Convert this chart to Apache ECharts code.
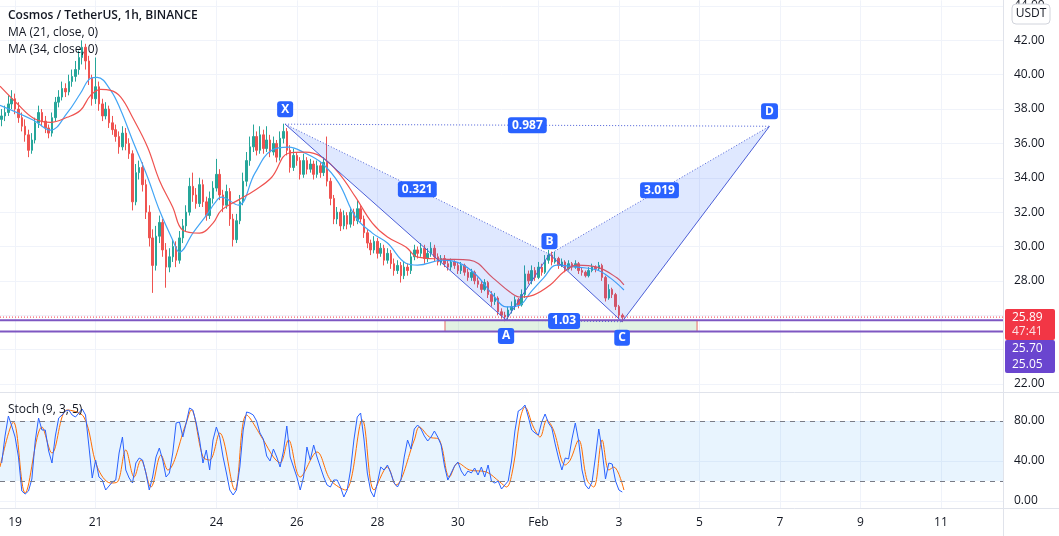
<!DOCTYPE html>
<html><head><meta charset="utf-8">
<script src="https://cdn.jsdelivr.net/npm/echarts@6/dist/echarts.min.js"></script>
<style>html,body{margin:0;padding:0;background:#fff}#c{width:1059px;height:536px}</style>
</head><body><div id="c"></div>
<script>
// ---------- DATA (2-hour candles, first one at Jan 18 16:00; hour 0 = Jan 19 00:00) ----------
const opens = [
37.4,37.6,37.8,38.3,38.6,38.0,37.5,37.0,36.5,35.6,
36.2,37.2,37.8,37.3,36.9,36.6,37.5,38.4,38.7,39.2,
39.0,39.6,39.9,40.3,41.0,41.6,40.8,39.8,38.6,39.3,
38.3,37.6,38.0,37.2,36.8,36.4,35.8,36.6,36.0,35.4,
32.6,34.3,34.6,33.6,32.0,30.5,28.9,30.6,31.4,29.8,
28.8,29.4,30.0,29.2,30.5,31.2,32.0,33.5,33.0,32.5,
33.6,32.6,31.8,32.8,33.4,34.2,33.0,32.4,33.2,31.6,
30.4,31.5,32.6,33.8,35.0,35.8,36.4,35.6,36.5,35.7,
36.2,35.5,36.0,35.2,36.3,36.7,35.6,34.6,35.3,35.0,
34.2,35.0,34.5,34.8,34.2,34.7,34.3,34.9,33.8,32.8,
31.6,32.0,31.2,31.8,31.3,32.0,31.5,32.2,31.6,30.8,
30.2,29.8,30.3,29.6,29.9,29.2,29.6,29.0,28.6,28.9,
28.3,28.8,28.6,29.4,29.8,29.6,29.9,29.3,29.6,29.9,
29.4,29.1,29.3,29.0,28.8,29.1,28.9,28.6,28.9,28.5,
28.2,28.5,28.0,27.8,27.5,27.9,27.2,26.8,27.0,26.2,
26.0,25.9,26.3,26.5,26.9,26.6,27.2,28.4,28.0,28.6,
28.2,28.8,28.5,29.2,29.5,29.1,29.3,28.9,29.1,28.7,
29.0,28.8,29.0,28.6,28.5,28.3,28.6,28.8,28.7,28.9,
28.2,27.0,27.5,27.2,26.5,26.0];
const closes = [
37.6,37.8,38.3,38.6,38.0,37.5,37.0,36.5,35.6,36.2,
37.2,37.8,37.3,36.9,36.6,37.5,38.4,38.7,39.2,39.0,
39.6,39.9,40.3,41.0,41.6,40.8,39.8,38.6,39.3,38.3,
37.6,38.0,37.2,36.8,36.4,35.8,36.6,36.0,35.4,32.6,
34.3,34.6,33.6,32.0,30.5,28.9,30.6,31.4,29.8,28.8,
29.4,30.0,29.2,30.5,31.2,32.0,33.5,33.0,32.5,33.6,
32.6,31.8,32.8,33.4,34.2,33.0,32.4,33.2,31.6,30.4,
31.5,32.6,33.8,35.0,35.8,36.4,35.6,36.5,35.7,36.2,
35.5,36.0,35.2,36.3,36.7,35.6,34.6,35.3,35.0,34.2,
35.0,34.5,34.8,34.2,34.7,34.3,34.9,33.8,32.8,31.6,
32.0,31.2,31.8,31.3,32.0,31.5,32.2,31.6,30.8,30.2,
29.8,30.3,29.6,29.9,29.2,29.6,29.0,28.6,28.9,28.3,
28.8,28.6,29.4,29.8,29.6,29.9,29.3,29.6,29.9,29.4,
29.1,29.3,29.0,28.8,29.1,28.9,28.6,28.9,28.5,28.2,
28.5,28.0,27.8,27.5,27.9,27.2,26.8,27.0,26.2,26.0,
25.9,26.3,26.5,26.9,26.6,27.2,28.4,28.0,28.6,28.2,
28.8,28.5,29.2,29.5,29.1,29.3,28.9,29.1,28.7,29.0,
28.8,29.0,28.6,28.5,28.3,28.6,28.8,28.7,28.9,28.2,
27.0,27.5,27.2,26.5,26.0,25.89];
const highs = [
38.0,38.2,38.8,39.1,38.9,38.4,37.8,37.4,36.8,36.6,
37.5,38.2,38.0,37.6,37.1,37.8,38.7,39.1,39.6,39.5,
40.0,40.3,40.8,41.4,42.0,41.8,41.1,40.0,41.0,39.6,
38.6,38.4,38.2,37.6,37.1,36.7,37.0,36.9,36.3,35.6,
34.8,35.0,34.9,33.9,32.4,31.0,31.2,31.8,31.6,30.2,
29.9,30.4,30.3,30.9,31.6,32.4,34.0,34.3,33.4,34.0,
33.9,32.9,33.2,33.8,35.1,34.5,33.3,33.6,33.4,31.9,
31.9,33.0,34.3,35.5,36.4,37.1,36.7,37.0,36.8,37.0,
36.5,36.4,36.2,36.7,37.15,36.9,35.9,35.7,35.5,35.2,
35.4,35.2,35.1,35.0,35.0,34.9,35.2,36.4,34.0,33.0,
32.3,32.2,32.1,32.0,32.3,32.2,32.7,32.4,31.8,31.0,
30.4,30.6,30.5,30.2,30.1,29.9,29.8,29.3,29.2,29.1,
29.1,29.0,29.7,30.1,30.0,30.2,30.1,29.9,30.25,30.1,
29.6,29.5,29.5,29.2,29.3,29.2,29.1,29.1,29.0,28.7,
28.7,28.6,28.2,28.0,28.1,28.0,27.4,27.3,27.1,26.4,
26.2,26.5,26.8,27.1,27.0,27.5,28.9,28.6,28.9,28.8,
29.1,29.0,29.5,29.8,29.7,29.7,29.4,29.3,29.2,29.2,
29.1,29.2,29.1,28.8,28.6,28.8,29.0,28.9,29.1,29.0,
28.3,27.8,27.6,27.3,26.6,26.1];
const lows = [
37.0,37.3,37.6,38.0,37.7,37.2,36.7,36.1,35.2,35.4,
36.0,36.9,37.0,36.6,36.3,36.4,37.3,38.1,38.5,38.7,
38.8,39.3,39.6,40.0,40.6,40.3,39.4,38.2,38.3,37.9,
37.3,37.4,36.9,36.5,36.1,35.4,35.6,35.6,35.1,32.1,
32.4,33.9,33.2,31.6,30.0,27.3,28.6,30.2,29.4,27.6,
28.5,29.1,28.8,29.0,30.2,30.9,31.8,32.6,32.2,32.3,
32.3,31.5,31.6,32.5,33.2,32.7,32.0,32.2,31.2,30.0,
30.2,31.3,32.4,33.5,34.7,35.5,35.3,35.4,35.4,35.5,
35.2,35.3,34.9,35.0,36.0,35.3,34.3,34.4,34.7,33.9,
34.0,34.2,34.3,33.9,34.0,34.0,34.1,33.5,32.4,31.3,
31.3,30.9,31.0,31.0,31.1,31.2,31.3,31.4,30.5,29.9,
29.5,29.6,29.3,29.4,28.9,29.0,28.7,28.3,28.4,27.9,
28.1,28.3,28.4,29.2,29.3,29.4,29.0,29.1,29.4,29.1,
28.9,28.9,28.8,28.6,28.6,28.7,28.4,28.4,28.3,28.0,
28.0,27.8,27.6,27.3,27.4,27.0,26.5,26.6,26.0,25.8,
25.65,25.7,26.1,26.3,26.4,26.5,27.0,27.8,27.8,28.0,
28.1,28.3,28.4,29.0,28.9,29.0,28.7,28.8,28.5,28.6,
28.6,28.7,28.4,28.3,28.2,28.2,28.5,28.5,28.6,28.0,
26.8,26.9,27.0,26.3,25.8,25.6];

// MA (21) and MA (34): hour, price
const ma21Hours = [-9,11,21,31,39,45,49,57,63,70,79,86,94,98,106,115,119,123,133,143,153,163,173,183,193,203,213,222,233,240,255,265,275,285,293,301,307,315,323,335,347,355,363];
const ma21Values = [38.22,37.35,36.77,37.76,38.92,39.79,39.85,39.09,37.93,36.19,34.03,32.12,30.37,29.67,30.78,31.94,32.52,32.87,32.41,34.27,35.60,35.78,35.43,34.85,33.69,31.71,30.78,30.20,29.03,28.92,29.21,29.03,28.34,27.17,26.48,26.59,27.29,28.16,28.92,28.80,28.63,28.16,27.47];
const ma34Hours = [-9,1,11,21,31,39,45,51,57,63,70,79,86,94,100,110,118,123,133,143,153,163,173,183,193,203,213,222,233,240,255,271,285,295,301,309,319,327,335,347,359,363];
const ma34Values = [39.33,38.34,37.47,37.23,37.52,37.93,38.80,39.15,39.09,38.69,37.52,35.78,33.86,32.29,30.95,30.78,31.36,32.12,32.70,33.28,34.03,35.43,35.49,35.20,34.27,32.87,31.36,30.55,29.97,29.38,29.27,29.21,28.16,27.35,27.06,27.17,27.76,28.51,28.92,28.80,28.16,27.76];

// Stoch (9, 3, 5): %K per 2-hour candle, %D read at turning points (hour, value)
const stochK = [
38,65,85,75,64,44,10,7,10,22,
60,83,71,71,50,38,65,83,86,90,
91,86,84,88,92,86,55,23,41,24,
21,11,15,19,21,48,64,31,23,18,
38,43,41,28,11,24,44,53,41,24,
28,48,78,79,64,78,93,91,78,61,
38,51,31,61,74,64,44,28,11,6,
11,34,71,89,88,86,80,68,62,45,
40,52,44,34,50,75,44,34,24,11,
24,54,41,56,44,34,24,16,14,21,
21,14,4,11,31,61,84,88,62,28,
10,4,18,34,31,36,28,18,14,21,
44,61,52,72,76,72,65,60,64,70,
64,56,35,21,28,35,39,30,25,30,
28,33,26,34,24,36,20,18,20,12,
16,20,40,70,90,92,96,84,71,68,
66,79,87,78,73,57,43,31,43,42,
62,78,60,31,16,12,19,44,72,50,
22,38,37,20,11,9];
const stochDHours = [-9,-1,6,16,22,31,41,49,57,61,66,71,75,81,87,91,102,105,112,116,122,131,138,148,154,158,163,170,180,188,197,207,214,222,227,238,241,247,253,259,264,271,281,289,293,297,301,304,309,313,317,321,328,331,336,341,345,350,354,357,363];
const stochDValues = [34,79,8,74,48,91,84,34,18,19,51,24,41,14,46,31,78,91,44,41,68,11,86,61,44,38,61,24,49,21,11,81,11,34,16,61,74,64,61,24,38,31,29,19,14,34,81,94,74,64,81,71,36,41,61,21,14,61,31,34,11];

// axis ticks
const dayTickHours = [0,48,120,168,216,264,312,360,408,456,504,552];
const dayTickLabels = ['19','21','24','26','28','30','Feb','3','5','7','9','11'];
const priceTicks = [22,24,26,28,30,32,34,36,38,40,42,44];
const stochTicks = [0,40,80];
const stochBands = [20,80];

// XABCD pattern & zone
const patternNames = ['X','A','B','C','D'];
const patternHours = [161,292.7,318.6,361.9,449.8];
const patternPrices = [37.12,25.72,29.55,25.62,37.0];
const ratioLabels = ['0.321','0.987','1.03','3.019']; // XB, XD, AC, BD
const zoneHours = [256.3,406.6];
const zoneLevels = [25.70,25.05];
const lastPrice = 25.89;
const countdown = '47:41';

const titleText = 'Cosmos / TetherUS, 1h, BINANCE';
const maLabels = ['MA (21, close, 0)','MA (34, close, 0)'];
const stochLabel = 'Stoch (9, 3, 5)';

// ---------- CHART ----------
const FONT = '"Open Sans", "Noto Sans", sans-serif';
const firstHour = -8, step = 2, nCats = 299;
const cats = Array.from({length:nCats},(_,i)=>String(firstHour+step*i));
const candleData = opens.map((o,i)=>[o, closes[i], lows[i], highs[i]]);
const zip = (a,b)=>a.map((v,i)=>[v,b[i]]);

const PCOL = '#4c5fd7';
function renderPattern(params, api){
  const cs = params.coordSys;
  const L = cs.x, R = cs.x + cs.width;
  const P = patternHours.map((h,k)=>api.coord([h, patternPrices[k]]));
  const [X,A,B,C,D] = P;
  const z0 = api.coord([zoneHours[0], zoneLevels[0]]);
  const z1 = api.coord([zoneHours[1], zoneLevels[1]]);
  const yLast = api.coord([0,lastPrice])[1];
  const ch = [];
  ch.push({type:'rect', shape:{x:z0[0], y:z0[1], width:z1[0]-z0[0], height:z1[1]-z0[1]},
    style:{fill:'rgba(76,175,80,0.16)', stroke:'rgba(229,57,53,0.75)', lineWidth:1}});
  ch.push({type:'polygon', shape:{points:[X,A,B]}, style:{fill:'rgba(41,98,255,0.15)'}});
  ch.push({type:'polygon', shape:{points:[B,C,D]}, style:{fill:'rgba(41,98,255,0.15)'}});
  const seg=(p,q,dash)=>ch.push({type:'line', shape:{x1:p[0],y1:p[1],x2:q[0],y2:q[1]},
    style:{stroke:PCOL, lineWidth:1, lineDash: dash?[1,2]:null}});
  seg(X,A,false); seg(A,B,false); seg(B,C,false); seg(C,D,false);
  seg(X,B,true); seg(B,D,true); seg(X,D,true); seg(A,C,true);
  ch.push({type:'line', shape:{x1:L,y1:yLast,x2:R,y2:yLast}, style:{stroke:'#f23645', lineWidth:1, lineDash:[1,2]}});
  zoneLevels.forEach(v=>{const y=api.coord([0,v])[1];
    ch.push({type:'line', shape:{x1:L,y1:y,x2:R,y2:y}, style:{stroke:'#7e57c2', lineWidth:2}});});
  const box=(txt,x,y)=>ch.push({type:'text', x:x, y:y, style:{text:txt, fill:'#fff',
    font:'bold 12px '+FONT, align:'center', verticalAlign:'middle', textAlign:'center', textVerticalAlign:'middle',
    backgroundColor:'#2962ff', padding:[2,4,2,4], borderRadius:3}});
  const off=[-15,16,-13,16,-15];
  P.forEach((p,k)=>box(patternNames[k], p[0], p[1]+off[k]));
  const mid=(p,q)=>[(p[0]+q[0])/2,(p[1]+q[1])/2];
  [[X,B],[X,D],[A,C],[B,D]].forEach((pq,k)=>{const m=mid(pq[0],pq[1]); box(ratioLabels[k], m[0], m[1]);});
  return {type:'group', children:ch};
}

const chart = echarts.init(document.getElementById('c'), null, {renderer:'canvas'});
const axisText = {color:'#131722', fontSize:12, fontFamily:FONT};
const option = {
  animation:false,
  backgroundColor:'#ffffff',
  textStyle:{fontFamily:FONT},
  grid:[{left:0,right:56,top:0,height:392},{left:0,right:56,top:393,height:115}],
  xAxis:[
    {type:'category', gridIndex:0, position:'bottom', data:cats, boundaryGap:true, show:false},
    {type:'value', gridIndex:0, position:'top', min:-9, max:589, axisLine:{show:false},
      axisTick:{show:false, customValues:dayTickHours}, axisLabel:{show:false, customValues:dayTickHours},
      splitLine:{show:true, lineStyle:{color:'#f0f3fa', width:1}}},
    {type:'category', gridIndex:1, position:'top', data:cats, boundaryGap:true, show:false},
    {type:'value', gridIndex:1, position:'bottom', min:-9, max:589, axisLine:{show:false},
      axisTick:{show:false, customValues:dayTickHours},
      axisLabel:Object.assign({customValues:dayTickHours, margin:9,
        formatter:v=>dayTickLabels[dayTickHours.indexOf(v)]||''}, axisText),
      splitLine:{show:true, lineStyle:{color:'#f0f3fa', width:1}}}
  ],
  yAxis:[
    {type:'value', gridIndex:0, position:'right', min:21.53, max:44.33, axisLine:{show:false},
      axisTick:{show:false, customValues:priceTicks},
      axisLabel:Object.assign({customValues:priceTicks, margin:11, formatter:v=>v.toFixed(2)}, axisText),
      splitLine:{show:true, lineStyle:{color:'#f0f3fa', width:1}}},
    {type:'value', gridIndex:1, position:'right', min:-7, max:108, axisLine:{show:false},
      axisTick:{show:false, customValues:stochTicks},
      axisLabel:Object.assign({customValues:stochTicks, margin:11, formatter:v=>v.toFixed(2)}, axisText),
      splitLine:{show:true, lineStyle:{color:'#f0f3fa', width:1}}}
  ],
  series:[
    {type:'candlestick', xAxisIndex:0, yAxisIndex:0, data:candleData, barWidth:2,
      itemStyle:{color:'#26a69a', color0:'#ef5350', borderColor:'#26a69a', borderColor0:'#ef5350', borderWidth:1}, z:2},
    {type:'line', xAxisIndex:1, yAxisIndex:0, data:zip(ma21Hours,ma21Values), smooth:0.4, symbol:'none',
      lineStyle:{color:'#42a5f5', width:1.2}, z:3},
    {type:'line', xAxisIndex:1, yAxisIndex:0, data:zip(ma34Hours,ma34Values), smooth:0.4, symbol:'none',
      lineStyle:{color:'#ef5350', width:1.2}, z:3},
    {type:'custom', xAxisIndex:1, yAxisIndex:0, renderItem:renderPattern,
      data:[[patternHours[0],patternPrices[0]]], z:4, silent:true, clip:true},
    {type:'line', xAxisIndex:2, yAxisIndex:1, data:stochK, symbol:'none',
      lineStyle:{color:'#2962ff', width:1}, z:4,
      markArea:{silent:true, itemStyle:{color:'rgba(33,150,243,0.1)'}, data:[[{yAxis:stochBands[0]},{yAxis:stochBands[1]}]]},
      markLine:{silent:true, symbol:'none', label:{show:false},
        lineStyle:{color:'#787b86', type:[5,5], width:1}, data:stochBands.map(v=>({yAxis:v}))}},
    {type:'line', xAxisIndex:3, yAxisIndex:1, data:zip(stochDHours,stochDValues), smooth:0.35, symbol:'none',
      lineStyle:{color:'#ff6d00', width:1}, z:3}
  ]
};
chart.setOption(option);

const yLast = Math.round(chart.convertToPixel({yAxisIndex:0}, lastPrice));
const redTop = yLast - 8, redH = 31, purTop = redTop + redH, purH = 33;
const BX = 1005, BW = 50;
const txt = (id,text,x,y,font,fill,extra)=>Object.assign({type:'text', id:id, x:x, y:y, z:100,
  style:{text:text, font:font, fill:fill, textVerticalAlign:'middle', verticalAlign:'middle'}}, extra||{});
chart.setOption({graphic:[
  {type:'line', id:'sepV', z:90, shape:{x1:1003.5,y1:0,x2:1003.5,y2:536}, style:{stroke:'#e0e3eb', lineWidth:1}},
  {type:'line', id:'sepH1', z:90, shape:{x1:0,y1:392.5,x2:1059,y2:392.5}, style:{stroke:'#e0e3eb', lineWidth:1}},
  {type:'line', id:'sepH2', z:90, shape:{x1:0,y1:508.5,x2:1059,y2:508.5}, style:{stroke:'#e0e3eb', lineWidth:1}},
  txt('t0', titleText, 8, 16, '600 12px '+FONT, '#131722'),
  txt('t1', maLabels[0], 8, 33, '12px '+FONT, '#131722'),
  txt('t2', maLabels[1], 8, 50, '12px '+FONT, '#131722'),
  txt('t3', stochLabel, 8, 410, '12px '+FONT, '#131722'),
  {type:'rect', id:'usdtBox', z:100, shape:{x:1012,y:4,width:38,height:20,r:4}, style:{fill:'#fff', stroke:'#d1d4dc', lineWidth:1}},
  txt('usdt','USDT',1031,14,'12px '+FONT,'#131722',{style:{text:'USDT', font:'12px '+FONT, fill:'#131722', textAlign:'center', align:'center', textVerticalAlign:'middle', verticalAlign:'middle'}}),
  {type:'rect', id:'redBox', z:100, shape:{x:BX,y:redTop,width:BW,height:redH,r:2}, style:{fill:'#f23645'}},
  txt('lp', lastPrice.toFixed(2), 1012, redTop+9, '12px '+FONT, '#ffffff'),
  txt('cd', countdown, 1012, redTop+23, '12px '+FONT, 'rgba(255,255,255,0.85)'),
  {type:'rect', id:'purBox', z:100, shape:{x:BX,y:purTop,width:BW,height:purH,r:2}, style:{fill:'#6a45cf'}},
  txt('z0', zoneLevels[0].toFixed(2), 1012, purTop+8.5, '12px '+FONT, '#ffffff'),
  txt('z1', zoneLevels[1].toFixed(2), 1012, purTop+25, '12px '+FONT, '#ffffff')
]});
</script></body></html>
